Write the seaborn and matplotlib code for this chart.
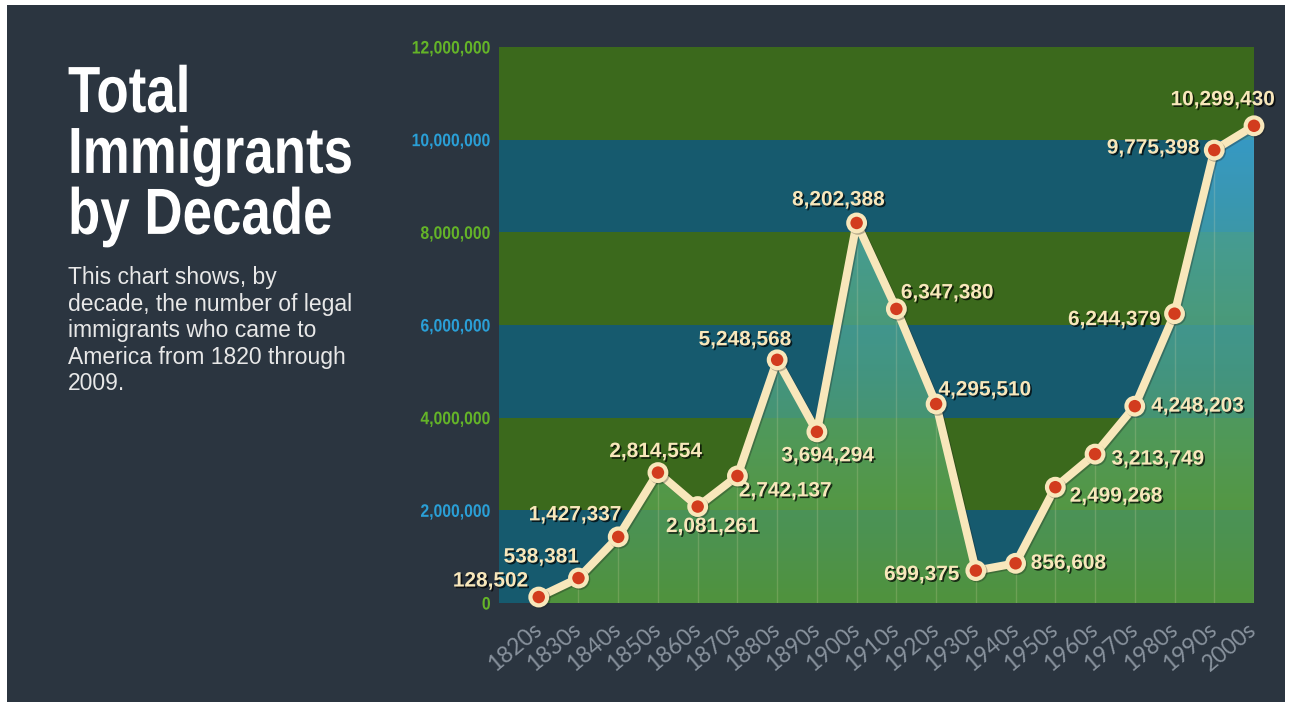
import numpy as np
import pandas as pd
import matplotlib
matplotlib.use("Agg")
import matplotlib.pyplot as plt
import matplotlib.patheffects as pe
from matplotlib.patches import Rectangle
from matplotlib.transforms import Affine2D
import seaborn as sns

# Data
decades = ["1820s", "1830s", "1840s", "1850s", "1860s", "1870s", "1880s", "1890s", "1900s", "1910s",
           "1920s", "1930s", "1940s", "1950s", "1960s", "1970s", "1980s", "1990s", "2000s"]
immigrants = [128502, 538381, 1427337, 2814554, 2081261, 2742137, 5248568, 3694294, 8202388, 6347380,
              4295510, 699375, 856608, 2499268, 3213749, 4248203, 6244379, 9775398, 10299430]
y_ticks = [0, 2000000, 4000000, 6000000, 8000000, 10000000, 12000000]

# label offsets in pixels (dx, dy) from each point
label_offsets = [(-48, 16), (-37, 21), (-43, 22), (-2, 21), (15, -20), (48, -15), (-32, 20),
                 (11, -24), (-18, 23), (51, 16), (49, 14), (-54, -4), (53, 0), (61, -9),
                 (63, -5), (63, 0), (-60, -6), (-61, 2), (-31, 26)]

df = pd.DataFrame({"decade": decades, "immigrants": immigrants})
df["pos"] = np.arange(len(df))

sns.set_theme(style="white")
plt.rcParams["font.family"] = ["Liberation Sans", "DejaVu Sans"]

BG = "#2b3540"
GREEN_BAND = "#3b691c"
BLUE_BAND = "#165a6e"
CREAM = "#f8e7bb"
RED = "#d23c1e"


class Condense(pe.AbstractPathEffect):
    """squeeze glyphs horizontally around x0 (display px) - no condensed font installed"""
    def __init__(self, sx, x0):
        super().__init__()
        self.sx = sx
        self.x0 = x0

    def draw_path(self, renderer, gc, tpath, affine, rgbFace=None):
        squeeze = Affine2D().translate(-self.x0, 0).scale(self.sx, 1).translate(self.x0, 0)
        renderer.draw_path(gc, tpath, affine + squeeze, rgbFace)


fig = plt.figure(figsize=(12.92, 7.07), dpi=100)
fig.patch.set_facecolor("white")
fig.patches.append(Rectangle((7 / 1292, 5 / 707), 1278 / 1292, 697 / 707, transform=fig.transFigure,
                             facecolor=BG, edgecolor="none", zorder=-10))

ax = fig.add_axes([499 / 1292, 104 / 707, 755 / 1292, 556 / 707])

# alternating bands
for i in range(len(y_ticks) - 1):
    ax.axhspan(y_ticks[i], y_ticks[i + 1], color=BLUE_BAND if i % 2 == 0 else GREEN_BAND, zorder=0, lw=0)

# gradient fill under the line (green at the bottom, light blue at the top)
poly = ax.fill_between(df["pos"], df["immigrants"], 0, facecolor="none", edgecolor="none")
t = np.linspace(0, 1, 256)[:, None]
bottom = np.array([100, 165, 45]) / 255
top = np.array([65, 175, 230]) / 255
grad = np.zeros((256, 1, 4))
grad[..., :3] = bottom * (1 - t[..., None]) + top * t[..., None]
grad[..., 3] = 0.75
im = ax.imshow(grad, extent=[-1, 18, 0, max(immigrants)], origin="lower", aspect="auto", zorder=1,
               interpolation="bilinear")
im.set_clip_path(poly.get_paths()[0], transform=ax.transData)
ax.set_xlim(-1, 18)
ax.set_ylim(0, 12000000)

# faint vertical guides under the curve
ax.vlines(df["pos"], 0, df["immigrants"], color=CREAM, alpha=0.18, lw=1, zorder=2)

sns.lineplot(data=df, x="pos", y="immigrants", ax=ax, color=CREAM, lw=5.8, zorder=3,
             marker="o", markersize=12, markerfacecolor=RED, markeredgecolor=CREAM,
             markeredgewidth=3, clip_on=False,
             path_effects=[pe.SimpleLineShadow(offset=(1, -1), alpha=0.3), pe.Normal()])

shadow = [pe.withSimplePatchShadow(offset=(1.2, -1.2), shadow_rgbFace="black", alpha=0.7)]
for i, row in df.iterrows():
    dx, dy = label_offsets[i]
    ax.annotate(f"{row['immigrants']:,}", (row["pos"], row["immigrants"]), xytext=(dx, dy),
                textcoords="offset pixels", ha="center", va="center", fontsize=15,
                fontweight="bold", color=CREAM, zorder=5, annotation_clip=False,
                path_effects=shadow)

# axes styling
for s in ax.spines.values():
    s.set_visible(False)
ax.set_xlabel("")
ax.set_ylabel("")
ax.set_xticks(df["pos"])
ax.set_xticklabels(df["decade"], rotation=40, ha="right", va="center", rotation_mode="anchor",
                   fontsize=16.5, color="#88929d", family=["Lato", "DejaVu Sans"])
ax.set_yticks(y_ticks)
ax.set_yticklabels([f"{v:,}" for v in y_ticks], fontsize=13, fontweight="bold")
for i, lab in enumerate(ax.get_yticklabels()):
    lab.set_color("#64b428" if i % 2 == 0 else "#2a9fd6")
    lab.set_path_effects([Condense(0.87, 491)])
ax.tick_params(axis="both", length=0, pad=6)
ax.tick_params(axis="x", pad=17)

# title block
fig.text(68 / 1292, 1 - 65 / 707, "Total\nImmigrants\nby Decade", ha="left", va="top",
         fontsize=47, fontweight="bold", color="white", linespacing=1.02,
         path_effects=[Condense(0.81, 68)])
fig.text(68 / 1292, 1 - 266 / 707,
         "This chart shows, by\ndecade, the number of legal\nimmigrants who came to\nAmerica from 1820 through\n2009.",
         ha="left", va="top", fontsize=16.5, color="#e8e8e8", linespacing=1.2)

fig.savefig("out.png", dpi=100, facecolor=fig.get_facecolor())
